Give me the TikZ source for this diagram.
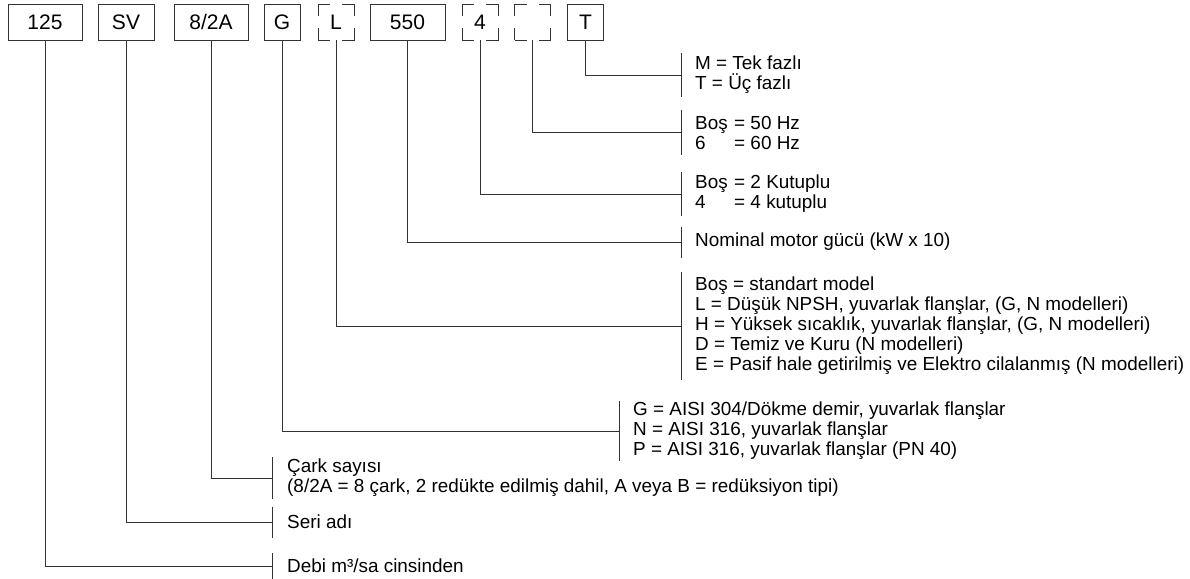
\documentclass[tikz,border=0pt]{standalone}
\usepackage{fontspec}
\setmainfont{Liberation Sans}
\begin{document}
\begin{tikzpicture}[x=1pt,y=-1pt,
  ln/.style={draw=black!80, line width=0.9pt},
  code/.style={draw=black!80, line width=0.9pt, minimum height=36pt, inner sep=0pt, font=\fontsize{21}{24}\selectfont},
  optcode/.style={code, minimum width=36pt, dash pattern=on 24pt off 12pt, dash phase=12pt},
  lab/.style={anchor=west, align=left, inner sep=0pt, font=\fontsize{18.9}{20}\selectfont}]
\useasboundingbox (0,0) rectangle (1190,578);

% code boxes
\node[code, minimum width=74pt] (b125) at (45,22) {125};
\node[code, minimum width=56pt] (bSV) at (126,22) {SV};
\node[code, minimum width=74pt] (bImp) at (211,22) {8/2A};
\node[code, minimum width=36pt] (bG) at (282,22) {G};
\node[optcode] (bL) at (336,22) {L};
\node[code, minimum width=75pt] (b550) at (407.5,22) {550};
\node[optcode] (b4) at (480,22) {4};
\node[optcode] (bHz) at (532.5,22) {};
\node[code, minimum width=36pt] (bT) at (585.5,22) {T};

% junctions on the bars
\coordinate (hT) at (681,75);
\coordinate (hHz) at (681,132.5);
\coordinate (hPole) at (681,194);
\coordinate (hKW) at (681,242);
\coordinate (hMod) at (681,326);
\coordinate (hMat) at (619,431);
\coordinate (hImp) at (272,478);
\coordinate (hSer) at (272,522);
\coordinate (hDeb) at (272,566);

% bars
\draw[ln] ([yshift=22pt]hT) -- ([yshift=-22pt]hT);
\draw[ln] ([yshift=22.5pt]hHz) -- ([yshift=-22.5pt]hHz);
\draw[ln] ([yshift=22pt]hPole) -- ([yshift=-22pt]hPole);
\draw[ln] ([yshift=15.5pt]hKW) -- ([yshift=-15.5pt]hKW);
\draw[ln] ([yshift=54pt]hMod) -- ([yshift=-54pt]hMod);
\draw[ln] ([yshift=30pt]hMat) -- ([yshift=-30pt]hMat);
\draw[ln] ([yshift=21pt]hImp) -- ([yshift=-21pt]hImp);
\draw[ln] ([yshift=15.5pt]hSer) -- ([yshift=-15.5pt]hSer);
\draw[ln] ([yshift=13pt]hDeb) -- ([yshift=-13pt]hDeb);

% connectors
\draw[ln] (bT.south) |- (hT);
\draw[ln] (bHz.south) |- (hHz);
\draw[ln] (b4.south) |- (hPole);
\draw[ln] (b550.south) |- (hKW);
\draw[ln] (bL.south) |- (hMod);
\draw[ln] (bG.south) |- (hMat);
\draw[ln] (bImp.south) |- (hImp);
\draw[ln] (bSV.south) |- (hSer);
\draw[ln] (b125.south) |- (hDeb);

% labels
\node[lab] (tT) at ([xshift=14pt]hT) {M = Tek fazlı\\T = Üç fazlı};
\node[lab] (tHz) at ([xshift=14pt]hHz) {\makebox[39pt][l]{Boş}= 50 Hz\\\makebox[39pt][l]{6}= 60 Hz};
\node[lab] (tPole) at ([xshift=14pt]hPole) {\makebox[39pt][l]{Boş}= 2 Kutuplu\\\makebox[39pt][l]{4}= 4 kutuplu};
\node[lab] (tKW) at ([xshift=14pt]hKW) {Nominal motor gücü (kW x 10)};
\node[lab] (tMod) at ([xshift=14pt]hMod) {Boş = standart model\\L = Düşük NPSH, yuvarlak flanşlar, (G, N modelleri)\\H = Yüksek sıcaklık, yuvarlak flanşlar, (G, N modelleri)\\D = Temiz ve Kuru (N modelleri)\\E = Pasif hale getirilmiş ve Elektro cilalanmış (N modelleri)};
\node[lab] (tMat) at ([xshift=14pt]hMat) {G = AISI 304/Dökme demir, yuvarlak flanşlar\\N = AISI 316, yuvarlak flanşlar\\P = AISI 316, yuvarlak flanşlar (PN 40)};
\node[lab] (tImp) at ([xshift=15pt]hImp) {Çark sayısı\\(8/2A = 8 çark, 2 redükte edilmiş dahil, A veya B = redüksiyon tipi)};
\node[lab] (tSer) at ([xshift=15pt]hSer) {Seri adı};
\node[lab] (tDeb) at ([xshift=15pt]hDeb) {Debi m³/sa cinsinden};
\end{tikzpicture}
\end{document}
